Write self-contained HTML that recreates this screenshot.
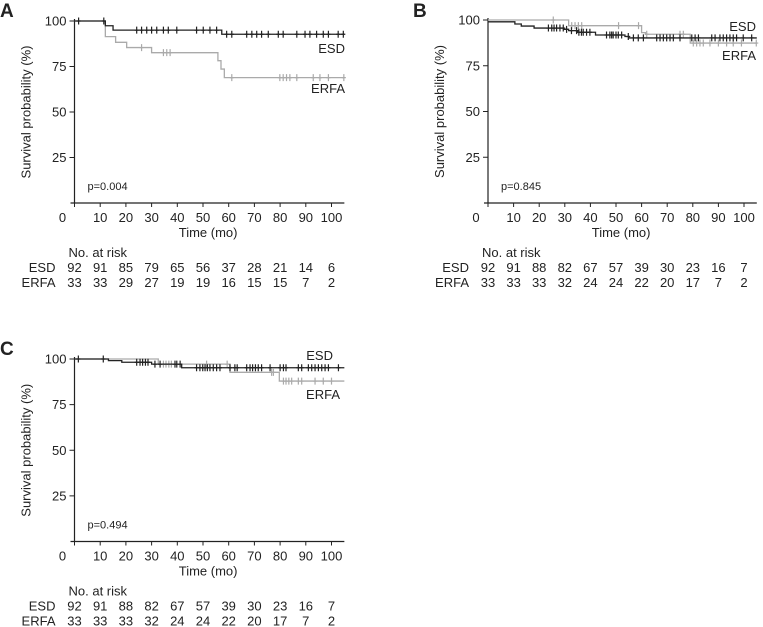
<!DOCTYPE html>
<html><head><meta charset="utf-8"><style>
html,body{margin:0;padding:0;background:#fff;}
svg{display:block;font-family:"Liberation Sans",sans-serif;}
</style></head><body>
<svg id="chart" width="763" height="627" viewBox="0 0 763 627"></svg>
<script>
// ---- Panel A ----
const aEsdTimes=[0,12,15,57.3];
const aEsdSurv=[100,97.4,95,92.7];
const aErfaTimes=[0,12,16,20.3,30,55.8,57,58.3];
const aErfaSurv=[100,91.4,88.3,85.4,82.6,78.2,73.6,68.9];
const aEsdCens=[1.6,11.4,24.2,26.1,28.1,30,32,34.6,36.5,39.8,47.5,50.1,52.7,55.3,59.2,61.2,67,69,70.9,72.8,75.4,79.3,81.2,86.5,89.7,91.6,94.2,96.8,98.8,102.6,104.6];
const aErfaCens=[26.1,34.6,35.9,37.2,61.2,79.9,81.2,82.5,83.8,86.5,92.9,95.5,98.8,104.8];
const aRiskEsd=["92","91","85","79","65","56","37","28","21","14","6"];
const aRiskErfa=["33","33","29","27","19","19","16","15","15","7","2"];
// ---- Panel B ----
const bEsdTimes=[0,10.5,13,18,29.5,31.5,35,42,53.5,55];
const bEsdSurv=[99,97.8,96.7,95.6,94.9,94.2,93.3,91.8,91,90.2];
const bErfaTimes=[0,31.5,60,61.5,79];
const bErfaSurv=[100,96.9,93.1,92.2,87.4];
const bEsdCens=[23.6,24.9,25.8,26.8,28.1,29.4,30.7,32.6,34.6,35.5,36.5,37.2,38.5,39.8,46.3,47.6,48.3,48.9,50,50.9,52.2,54.8,56.8,58.7,60.7,65.9,67.2,68.5,69.8,71.1,72.4,75,79.6,80.9,82.2,87.4,88.7,90.6,91.9,93.2,94.5,95.8,97.1,99.7,103];
const bErfaCens=[25.5,32.7,34,35.3,36.6,51,58.8,62,75,76.3,80.2,81.5,82.8,84.1,86.7,90,93.2,95.8,99,104.8];
const bRiskEsd=["92","91","88","82","67","57","39","30","23","16","7"];
const bRiskErfa=["33","33","33","32","24","24","22","20","17","7","2"];
// ---- Panel C ----
const cEsdTimes=[0,13.2,18.4,30,41.7];
const cEsdSurv=[100,99.1,98.2,97.2,95.2];
const cErfaTimes=[0,32.6,60.5,79.7];
const cErfaSurv=[100,97.2,92.7,87.9];
const cEsdCens=[1.5,11.2,24.2,25.5,26.5,27.6,28.6,31.3,33.3,39.1,39.8,41.1,47.5,48.8,49.9,50.8,51.7,52.7,54,55.3,56.6,60.5,62.4,63.3,67,68.3,69.3,70.4,71.5,72.8,76.1,80,81.3,82.3,87.1,88.4,91,92.3,93.6,94.9,96.2,97.5,98.8,102.7];
const cErfaCens=[34.6,35.6,36.7,37.7,51.4,59.4,76.7,77.4,81.3,82.3,83.4,84.5,87.1,88.4,93.6,96.8,100];
const cRiskEsd=["92","91","88","82","67","57","39","30","23","16","7"];
const cRiskErfa=["33","33","33","32","24","24","22","20","17","7","2"];

const xTicks=[0,10,20,30,40,50,60,70,80,90,100];
const yTicks=[25,50,75,100];

const svg=document.getElementById('chart');
const NS='http://www.w3.org/2000/svg';
function mk(tag,attrs,parent){const e=document.createElementNS(NS,tag);for(const k in attrs)e.setAttribute(k,attrs[k]);(parent||svg).appendChild(e);return e;}
function txt(s,x,y,size,anchor,parent,extra){const t=mk('text',Object.assign({x:x,y:y,'font-size':size,'text-anchor':anchor||'start',fill:'#222'},extra||{}),parent);t.textContent=s;return t;}

function survAt(times,surv,t){let s=surv[0];for(let i=0;i<times.length;i++){if(times[i]<=t)s=surv[i];}return s;}

function panel(p){
  const g=mk('g',{});
  
  
  const x0=p.x0, ppm=p.ppm, yTop=p.yTop, yBot=p.yBot, xMax=105;
  const X=m=>x0+m*ppm;
  const Y=s=>yBot-(s/100)*(yBot-yTop);
  const lab=txt(p.id,p.lx,p.ly,19,'start',g,{'font-weight':'bold'});
  
  
  const ax=mk('g',{},g);
  
  
  mk('line',{x1:x0,y1:yTop-2,x2:x0,y2:yBot,stroke:'#222','stroke-width':1.2},ax);
  mk('line',{x1:x0-4,y1:yBot,x2:X(xMax),y2:yBot,stroke:'#222','stroke-width':1.2},ax);
  yTicks.forEach(v=>{
    mk('line',{x1:x0-5,y1:Y(v),x2:x0,y2:Y(v),stroke:'#222','stroke-width':1},ax);
    const t=txt(String(v),x0-8,Y(v)+4.5,13,'end',ax);
    
    
  });
  xTicks.forEach(v=>{
    mk('line',{x1:X(v),y1:yBot,x2:X(v),y2:yBot+4,stroke:'#222','stroke-width':1},ax);
    const t=txt(String(v),v===0?X(v)-12:X(v),yBot+19,13,'middle',ax);
    
    
  });
  const xt=txt('Time (mo)',X(52),yBot+34,13,'middle',ax);
  
  
  const cy=(yTop+yBot)/2;
  const yt=txt('Survival probability (%)',x0-44,cy,13,'middle',ax,{transform:'rotate(-90 '+(x0-44)+' '+cy+')'});
  
  
  const pv=txt(p.pval,x0+13,yBot-13,11,'start',g);
  
  
  function series(times,surv,cens,color,name){
    let d='M'+X(0)+' '+Y(surv[0]);
    for(let i=1;i<times.length;i++){d+=' H'+X(times[i])+' V'+Y(surv[i]);}
    d+=' H'+X(xMax);
    const path=mk('path',{d:d,fill:'none',stroke:color,'stroke-width':1.3},g);
    
    
    cens.forEach(c=>{
      const yy=Y(survAt(times,surv,c));
      const l=mk('path',{d:'M'+X(c)+' '+(yy-3.5)+' V'+(yy+3.5)+' M'+(X(c)-2)+' '+yy+' H'+(X(c)+2),stroke:color,'stroke-width':1.2,fill:'none'},g);
      
      
    });
  }
  series(p.erfaT,p.erfaS,p.erfaC,'#aaaaaa','erfa');
  series(p.esdT,p.esdS,p.esdC,'#222222','esd');
  const le=txt('ESD',p.esdLx,p.esdLy,13,'end',g);
  
  
  const lr=txt('ERFA',p.erfaLx,p.erfaLy,13,'end',g);
  
  
  const rt=mk('g',{},g);
  
  
  txt('No. at risk',x0-6,yBot+54,13,'start',rt);
  txt('ESD',x0-19,yBot+69,13,'end',rt);
  txt('ERFA',x0-19,yBot+84,13,'end',rt);
  xTicks.forEach((v,i)=>{
    txt(p.riskEsd[i],X(v),yBot+69,13,'middle',rt);
    txt(p.riskErfa[i],X(v),yBot+84,13,'middle',rt);
  });
}

panel({id:'A',lx:0,ly:17,x0:74.5,ppm:2.57,yTop:21,yBot:203,pval:'p=0.004',
  esdT:aEsdTimes,esdS:aEsdSurv,esdC:aEsdCens,erfaT:aErfaTimes,erfaS:aErfaSurv,erfaC:aErfaCens,
  esdLx:345,esdLy:53,erfaLx:345,erfaLy:93,riskEsd:aRiskEsd,riskErfa:aRiskErfa});
panel({id:'B',lx:413,ly:17,x0:488,ppm:2.56,yTop:20,yBot:203,pval:'p=0.845',
  esdT:bEsdTimes,esdS:bEsdSurv,esdC:bEsdCens,erfaT:bErfaTimes,erfaS:bErfaSurv,erfaC:bErfaCens,
  esdLx:756,esdLy:31,erfaLx:756,erfaLy:60,riskEsd:bRiskEsd,riskErfa:bRiskErfa});
panel({id:'C',lx:0,ly:355,x0:74.5,ppm:2.57,yTop:359,yBot:541.5,pval:'p=0.494',
  esdT:cEsdTimes,esdS:cEsdSurv,esdC:cEsdCens,erfaT:cErfaTimes,erfaS:cErfaSurv,erfaC:cErfaCens,
  esdLx:333,esdLy:360,erfaLx:340,erfaLy:399,riskEsd:cRiskEsd,riskErfa:cRiskErfa});
</script>
</body></html>
